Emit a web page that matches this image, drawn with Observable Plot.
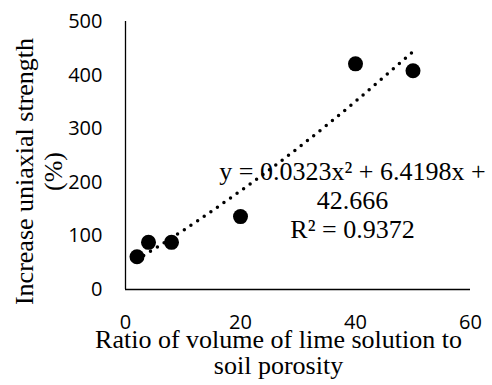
<!DOCTYPE html>
<html>
<head>
<meta charset="utf-8">
<script src="https://cdn.jsdelivr.net/npm/d3@7"></script>
<script src="https://cdn.jsdelivr.net/npm/@observablehq/plot@0.6"></script>
<style>
  html, body { margin: 0; padding: 0; background: #fff; }
  #chart svg { display: block; }
</style>
</head>
<body>
<div id="chart"></div>
<script>
// Observed data points
const ratio = [2, 4, 8, 20, 40, 50];
const strengthIncrease = [61, 88, 88, 136, 421, 408];

// Polynomial trendline
const trendRatio = [2, 10, 20, 30, 40, 50];
const trendStrength = [56, 110, 184, 264, 351, 444];

// Axis ticks
const xTicks = [0, 20, 40, 60];
const yTicks = [0, 100, 200, 300, 400, 500];

// Texts
const xTitle = ["Ratio of volume of lime solution to", "soil porosity"];
const yTitle = ["Increase uniaxial strength", "(%)"];
const equationLines = ["y = 0.0323x\u00B2 + 6.4198x +", "42.666", "R\u00B2 = 0.9372"];

const points = ratio.map((x, i) => ({x, y: strengthIncrease[i]}));
const trend = trendRatio.map((x, i) => ({x, y: trendStrength[i]}));

const serif = "'Liberation Serif', 'Times New Roman', serif";

const chart = Plot.plot({
  width: 492,
  height: 385,
  marginLeft: 125,
  marginRight: 22,
  marginTop: 21,
  marginBottom: 96,
  style: {fontFamily: "'Open Sans', sans-serif", fontSize: "20px", color: "#000", background: "#fff", overflow: "visible"},
  x: {domain: [0, 60]},
  y: {domain: [0, 500]},
  marks: [
    Plot.axisX(xTicks, {tickSize: 0, tickPadding: 25, label: null, fontSize: 20}),
    Plot.axisY(yTicks, {tickSize: 0, tickPadding: 23, label: null, fontSize: 20}),
    Plot.ruleY([0], {stroke: "#000", strokeWidth: 1.3}),
    Plot.ruleX([0], {stroke: "#000", strokeWidth: 1.3}),
    Plot.dot(points, {x: "x", y: "y", r: 7.5, fill: "#000", stroke: "none"}),
    Plot.line(trend, {x: "x", y: "y", curve: "natural", stroke: "#000", strokeWidth: 3.5,
      strokeDasharray: "0 8", strokeLinecap: "round"}),
    Plot.text([equationLines.join("\n")], {
      text: d => d, frameAnchor: "top-left", textAnchor: "middle", lineAnchor: "top",
      dx: 227, dy: 137.5, lineHeight: 1.12, fontFamily: serif, fontSize: 26, fill: "#000"
    }),
    Plot.text([xTitle.join("\n")], {
      text: d => d, frameAnchor: "bottom", textAnchor: "middle", lineAnchor: "top",
      dx: -19.5, dy: 40.5, lineHeight: 1.0, fontFamily: serif, fontSize: 26, fill: "#000"
    }),
    Plot.text([yTitle.join("\n")], {
      text: d => d, frameAnchor: "left", textAnchor: "middle", lineAnchor: "middle",
      rotate: -90, dx: -87, dy: 16, lineHeight: 1.1, fontFamily: serif, fontSize: 26, fill: "#000"
    })
  ]
});

document.getElementById("chart").appendChild(chart);
</script>
</body>
</html>
